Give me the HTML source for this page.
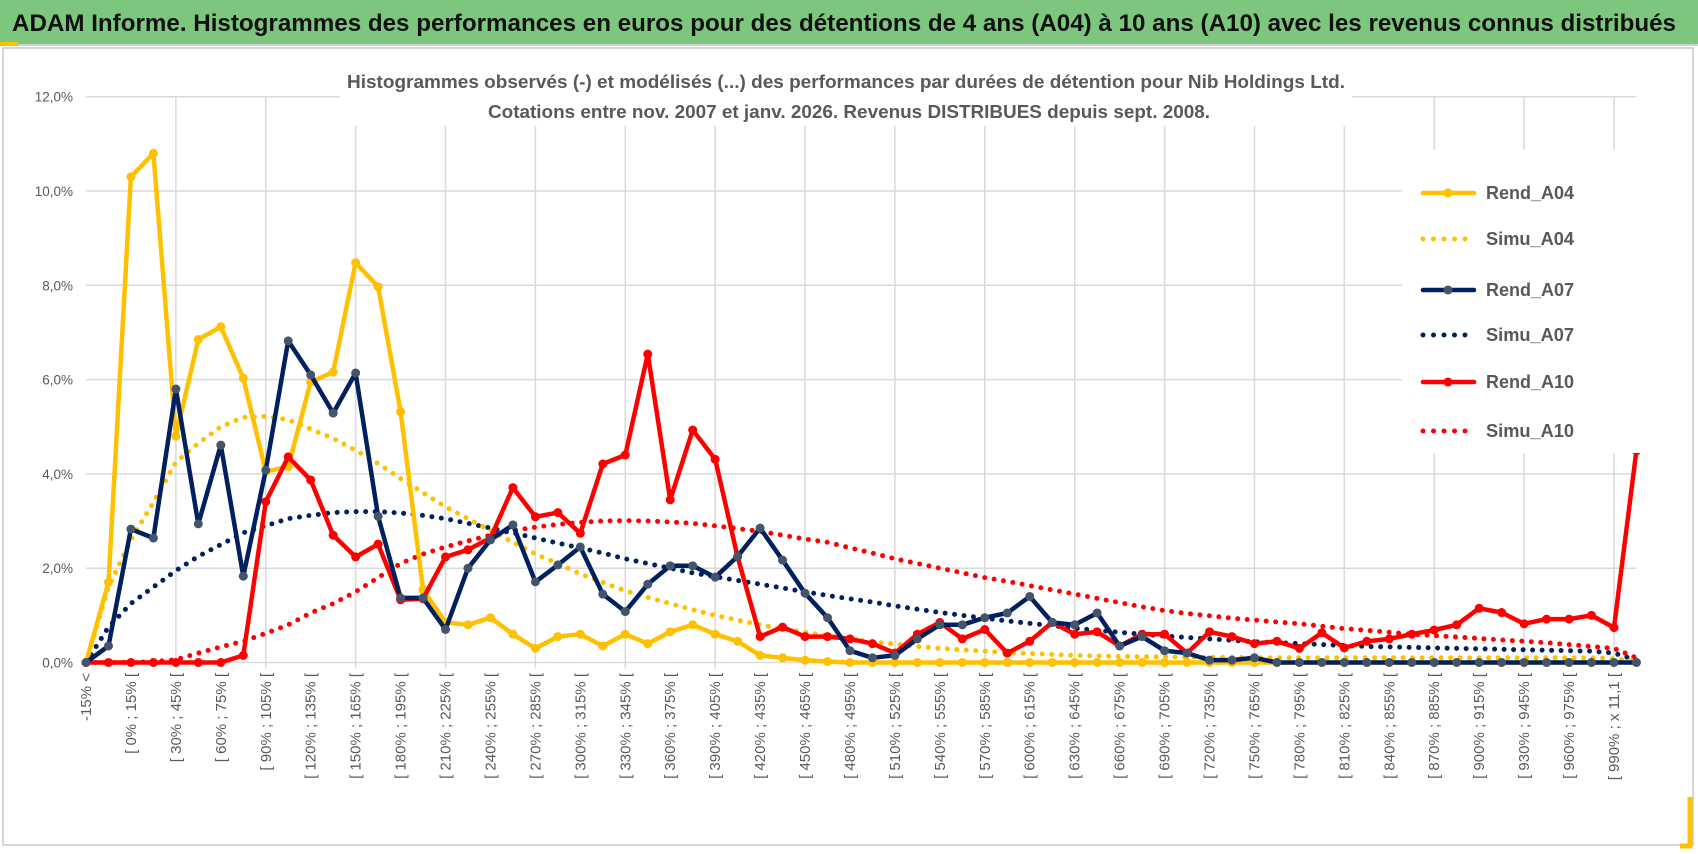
<!DOCTYPE html>
<html><head><meta charset="utf-8"><style>
html,body{margin:0;padding:0;background:#fff;}
svg{display:block;font-family:"Liberation Sans",sans-serif;}
</style></head><body>
<svg id="chart" width="1698" height="854" viewBox="0 0 1698 854" xmlns="http://www.w3.org/2000/svg">
<rect x="0" y="0" width="1698" height="854" fill="#fff"/>
<rect x="0" y="0" width="1698" height="44" fill="#7dc67e"/>
<line x1="0" y1="45" x2="1698" y2="45" stroke="#d0d0d0" stroke-width="2"/>
<rect x="0" y="42" width="18" height="4" fill="#ffc000"/>
<text x="12" y="31" font-size="24" font-weight="bold" fill="#111" textLength="1664" lengthAdjust="spacingAndGlyphs">ADAM Informe. Histogrammes des performances en euros pour des détentions de 4 ans (A04) à 10 ans (A10) avec les revenus connus distribués</text>
<rect x="3" y="48" width="1690" height="797" fill="none" stroke="#c8c8c8" stroke-width="1.5"/>
<path d="M1690 797 V846 H1680" fill="none" stroke="#ffc000" stroke-width="5"/>
<g id="grid"></g>
<rect x="340" y="62" width="1012" height="64" fill="#fff"/>
<text x="347" y="88" font-size="18" font-weight="bold" fill="#595959" textLength="998" lengthAdjust="spacingAndGlyphs">Histogrammes observés (-) et modélisés (...) des performances par durées de détention pour Nib Holdings Ltd.</text>
<text x="488" y="118" font-size="18" font-weight="bold" fill="#595959" textLength="722" lengthAdjust="spacingAndGlyphs">Cotations entre nov. 2007 et janv. 2026. Revenus DISTRIBUES depuis sept. 2008.</text>
<g id="axes"></g>
<g id="series"></g>
<rect x="1402" y="150" width="250" height="303" fill="#fff"/>
<g id="legend"></g>
</svg>
<script>
const categoriesCount = 70;
const yTicks = [0,2,4,6,8,10,12];
const yTickLabels = ["0,0%","2,0%","4,0%","6,0%","8,0%","10,0%","12,0%"];
const rendA04 = [0,1.7,10.3,10.8,4.8,6.85,7.12,6.03,4.05,4.15,5.95,6.16,8.48,7.97,5.32,1.55,0.85,0.8,0.95,0.6,0.3,0.55,0.6,0.35,0.6,0.4,0.65,0.8,0.6,0.45,0.15,0.1,0.05,0.02,0,0,0,0,0,0,0,0,0,0,0,0,0,0,0,0,0,0,0,0,0,0,0,0,0,0,0,0,0,0,0,0,0,0,0,0];
const simuA04 = [0,1.6,2.6,3.4,4.25,4.65,5.0,5.2,5.22,5.15,4.95,4.75,4.5,4.22,3.9,3.6,3.3,3.05,2.8,2.55,2.3,2.1,1.88,1.7,1.52,1.38,1.25,1.12,1.0,0.9,0.8,0.72,0.64,0.57,0.5,0.44,0.39,0.34,0.3,0.27,0.24,0.21,0.19,0.17,0.15,0.14,0.13,0.12,0.12,0.11,0.11,0.11,0.1,0.1,0.1,0.1,0.1,0.1,0.1,0.1,0.1,0.1,0.1,0.1,0.1,0.1,0.1,0.1,0.08,0.03];
const rendA07 = [0,0.35,2.83,2.64,5.8,2.94,4.61,1.83,4.08,6.82,6.1,5.29,6.14,3.1,1.37,1.37,0.7,2.0,2.6,2.92,1.71,2.07,2.45,1.45,1.08,1.66,2.05,2.05,1.81,2.25,2.85,2.17,1.47,0.95,0.25,0.1,0.15,0.5,0.8,0.8,0.95,1.05,1.4,0.85,0.8,1.05,0.35,0.55,0.25,0.2,0.05,0.05,0.1,0,0,0,0,0,0,0,0,0,0,0,0,0,0,0,0,0];
const simuA07 = [0,0.75,1.25,1.6,1.95,2.25,2.5,2.75,2.9,3.05,3.12,3.18,3.2,3.2,3.17,3.12,3.05,2.95,2.85,2.75,2.64,2.53,2.43,2.32,2.2,2.1,2.0,1.9,1.82,1.74,1.66,1.58,1.5,1.42,1.35,1.28,1.2,1.13,1.06,1.0,0.94,0.88,0.83,0.78,0.73,0.68,0.64,0.6,0.56,0.53,0.5,0.47,0.44,0.42,0.4,0.38,0.36,0.34,0.33,0.32,0.31,0.3,0.29,0.28,0.27,0.26,0.25,0.24,0.2,0.05];
const rendA10 = [0,0,0,0,0,0,0,0.15,3.41,4.36,3.87,2.7,2.24,2.51,1.33,1.35,2.24,2.39,2.64,3.71,3.09,3.18,2.74,4.21,4.4,6.54,3.45,4.93,4.31,2.24,0.55,0.75,0.55,0.55,0.5,0.4,0.2,0.6,0.85,0.5,0.7,0.2,0.45,0.85,0.6,0.65,0.35,0.6,0.6,0.2,0.65,0.55,0.4,0.45,0.3,0.63,0.31,0.45,0.5,0.6,0.69,0.8,1.15,1.06,0.82,0.92,0.92,1.0,0.74,4.49];
const simuA10 = [0,0,0,0.02,0.06,0.2,0.33,0.45,0.62,0.8,1.05,1.25,1.5,1.8,2.1,2.3,2.45,2.58,2.7,2.8,2.87,2.93,2.97,3.0,3.01,3.0,2.98,2.95,2.9,2.84,2.78,2.7,2.62,2.55,2.43,2.32,2.2,2.1,2.0,1.9,1.8,1.72,1.63,1.54,1.45,1.36,1.27,1.18,1.1,1.04,0.99,0.94,0.9,0.86,0.82,0.77,0.72,0.68,0.64,0.6,0.57,0.54,0.51,0.48,0.45,0.42,0.38,0.34,0.3,0.1];
const seriesNames = ["Rend_A04","Simu_A04","Rend_A07","Simu_A07","Rend_A10","Simu_A10"];

const NS = "http://www.w3.org/2000/svg";
const X0 = 86, DX = 22.47, Y0 = 662.5, PY = 47.15;
function xScale(i){ return X0 + i*DX; }
function yScale(v){ return Y0 - v*PY; }
function mk(tag, attrs, parent){ const e=document.createElementNS(NS,tag); for(const k in attrs) e.setAttribute(k,attrs[k]); parent.appendChild(e); return e; }
function catLabel(i){
  if(i===0) return "-15% <";
  const a = -15 + 15*(i-1);
  if(a>=990) return "[ 990% ; x 11,1 [";
  return "[ " + a + "% ; " + (a+15) + "% [";
}

const grid = document.getElementById('grid');
const axes = document.getElementById('axes');
const xEnd = xScale(categoriesCount-1);
yTicks.forEach((t,k)=>{
  const gl = mk('line',{x1:X0,x2:xEnd,y1:yScale(t),y2:yScale(t),stroke:'#d9d9d9','stroke-width':1.5},grid);
  
  
  const tl = mk('text',{x:73,y:yScale(t)+5,'text-anchor':'end','font-size':13.5,fill:'#595959'},axes);
  tl.textContent = yTickLabels[k];
  
  
});
for(let i=4;i<categoriesCount;i+=4){
  const vl = mk('line',{x1:xScale(i),x2:xScale(i),y1:yScale(12),y2:Y0+6,stroke:'#d9d9d9','stroke-width':1.5},grid);
  
  
}
for(let i=0;i<categoriesCount;i+=2){
  const x = xScale(i)+5, y = 673;
  const t = mk('text',{x:x,y:y,'text-anchor':'end','font-size':15,fill:'#595959',transform:`rotate(-90 ${x} ${y})`},axes);
  t.textContent = catLabel(i);
  
  
}

const seriesG = document.getElementById('series');
function drawSeries(data, color, dotted, markerFill, name){
  const g = mk('g',{},seriesG);
  
  
  const pts = data.map((v,i)=>xScale(i).toFixed(1)+','+yScale(v).toFixed(1)).join(' ');
  const attrs = {points:pts,fill:'none',stroke:color,'stroke-linejoin':'round'};
  if(dotted){ attrs['stroke-width']=5; attrs['stroke-dasharray']='0 9.5'; attrs['stroke-linecap']='round'; }
  else { attrs['stroke-width']=4.5; attrs['stroke-linecap']='round'; }
  const pl = mk('polyline',attrs,g);
  
  
  if(!dotted){
    data.forEach((v,i)=>{
      const c = mk('circle',{cx:xScale(i),cy:yScale(v),r:4.5,fill:markerFill},g);
      
      
    });
  }
}
drawSeries(simuA10,'#ff0000',true,null,'simu-a10');
drawSeries(simuA07,'#002060',true,null,'simu-a07');
drawSeries(simuA04,'#ffc000',true,null,'simu-a04');
drawSeries(rendA04,'#ffc000',false,'#ffc000','rend-a04');
drawSeries(rendA10,'#ff0000',false,'#ff0000','rend-a10');
drawSeries(rendA07,'#002060',false,'#44546a','rend-a07');

const legend = document.getElementById('legend');
const legColors = ['#ffc000','#ffc000','#002060','#002060','#ff0000','#ff0000'];
const legY = [193,239,290,335,382,431];
seriesNames.forEach((n,k)=>{
  const g = mk('g',{},legend);
  
  
  const dotted = n.startsWith('Simu');
  const a = {x1:1423,x2:1474,y1:legY[k],y2:legY[k],stroke:legColors[k],'stroke-linecap':'round'};
  if(dotted){ a['stroke-width']=5; a['stroke-dasharray']='0 10.5'; } else { a['stroke-width']=4.5; }
  mk('line',a,g);
  if(!dotted) mk('circle',{cx:1448,cy:legY[k],r:4.5,fill:k===2?'#44546a':legColors[k]},g);
  const t = mk('text',{x:1486,y:legY[k]+6,'font-size':18,'font-weight':'bold',fill:'#595959',textLength:88,lengthAdjust:'spacingAndGlyphs'},g);
  t.textContent = n;
});
</script>
</body></html>
